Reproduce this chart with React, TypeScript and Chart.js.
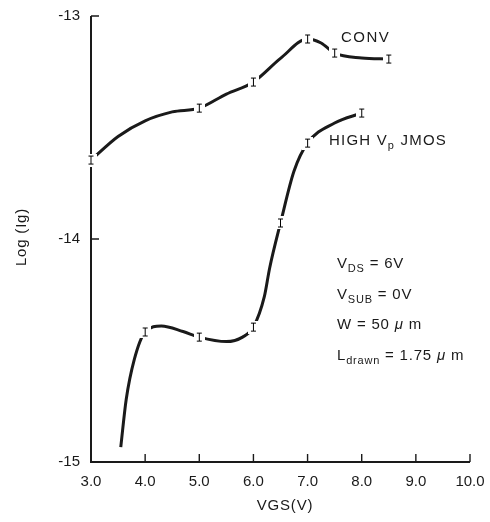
import React, { useEffect, useRef } from 'react';
import { Chart, registerables } from 'chart.js';
Chart.register(...registerables);

// ---- data ----
const xTicks = [3, 4, 5, 6, 7, 8, 9, 10];
const yTicks = [-15, -14, -13];

// CONV curve (smooth fit) and its measured points
const convCurveX = [3.0, 3.5, 4.0, 4.5, 5.0, 5.5, 6.0, 6.5, 7.0, 7.25, 7.5, 8.0, 8.5];
const convCurveY = [-13.646, -13.54, -13.47, -13.43, -13.413, -13.35, -13.296, -13.19, -13.103, -13.121, -13.166, -13.188, -13.193];
const convMarkX = [3.0, 5.0, 6.0, 7.0, 7.5, 8.5];
const convMarkY = [-13.646, -13.413, -13.296, -13.103, -13.166, -13.193];

// HIGH Vp JMOS curve and its measured points
const jmosCurveX = [3.55, 3.65, 3.8, 4.0, 4.3, 4.7, 5.0, 5.5, 5.8, 6.0, 6.2, 6.3, 6.5, 6.75, 7.0, 7.5, 8.0];
const jmosCurveY = [-14.933, -14.72, -14.54, -14.417, -14.39, -14.415, -14.44, -14.46, -14.44, -14.395, -14.26, -14.13, -13.928, -13.695, -13.57, -13.48, -13.435];
const jmosMarkX = [4.0, 5.0, 6.0, 6.5, 7.0, 8.0];
const jmosMarkY = [-14.417, -14.44, -14.395, -13.928, -13.57, -13.435];

const FONT = '"Liberation Sans", Arial, Helvetica, sans-serif';
const INK = '#1a1a1a';

const pts = (xs: number[], ys: number[]) => xs.map((x, i) => ({ x, y: ys[i] }));

function makeMarker(): HTMLCanvasElement {
  const c = document.createElement('canvas');
  c.width = 11;
  c.height = 13;
  const g = c.getContext('2d')!;
  g.fillStyle = '#fff';
  g.fillRect(0, 0, 11, 13);
  g.strokeStyle = '#000';
  g.lineWidth = 1;
  g.beginPath();
  g.moveTo(5.5, 2);
  g.lineTo(5.5, 11);
  g.moveTo(3, 2.5);
  g.lineTo(8, 2.5);
  g.moveTo(3, 10.5);
  g.lineTo(8, 10.5);
  g.stroke();
  return c;
}

type Run = { t: string; size?: number; dy?: number; italic?: boolean };

function drawRuns(ctx: CanvasRenderingContext2D, x: number, y: number, runs: Run[], spacing = '0.8px') {
  let cx = x;
  for (const r of runs) {
    const size = r.size ?? 15;
    ctx.font = `${r.italic ? 'italic ' : ''}${size}px ${FONT}`;
    (ctx as any).letterSpacing = spacing;
    ctx.textBaseline = 'middle';
    ctx.textAlign = 'left';
    ctx.fillText(r.t, cx, y + (r.dy ?? 0));
    cx += ctx.measureText(r.t).width;
  }
}

const decorPlugin = {
  id: 'decor',
  beforeDatasetsDraw(chart: any) {
    const { ctx, scales } = chart;
    const xs = scales.x, ys = scales.y;
    const x0 = xs.getPixelForValue(3);
    const x1 = xs.getPixelForValue(10);
    const yTop = ys.getPixelForValue(-13);
    const yBot = ys.getPixelForValue(-15);
    ctx.save();
    ctx.strokeStyle = INK;
    ctx.lineWidth = 2;
    ctx.beginPath();
    ctx.moveTo(x0, yTop);
    ctx.lineTo(x0, yBot);
    ctx.lineTo(x1, yBot);
    ctx.stroke();
    ctx.lineWidth = 1.4;
    ctx.beginPath();
    for (const v of yTicks) {
      const py = ys.getPixelForValue(v);
      ctx.moveTo(x0, py);
      ctx.lineTo(x0 + 8, py);
    }
    for (const v of xTicks) {
      if (v === 3) continue;
      const px = xs.getPixelForValue(v);
      ctx.moveTo(px, yBot);
      ctx.lineTo(px, yBot - 8);
    }
    ctx.stroke();
    ctx.restore();
  },
  afterDraw(chart: any) {
    const { ctx } = chart;
    ctx.save();
    ctx.fillStyle = INK;
    // axis titles
    ctx.font = `15px ${FONT}`;
    (ctx as any).letterSpacing = '0.8px';
    ctx.textAlign = 'center';
    ctx.textBaseline = 'middle';
    ctx.fillText('VGS(V)', 285, 506);
    ctx.save();
    ctx.translate(22, 237);
    ctx.rotate(-Math.PI / 2);
    ctx.fillText('Log (Ig)', 0, 0);
    ctx.restore();
    // curve labels
    drawRuns(ctx, 341, 38, [{ t: 'CONV' }], '1.5px');
    drawRuns(ctx, 329, 141, [{ t: 'HIGH V' }, { t: 'p', size: 11, dy: 5 }, { t: ' JMOS' }], '1.2px');
    // conditions
    drawRuns(ctx, 337, 264, [{ t: 'V' }, { t: 'DS', size: 11, dy: 5 }, { t: ' = 6V' }]);
    drawRuns(ctx, 337, 295, [{ t: 'V' }, { t: 'SUB', size: 11, dy: 5 }, { t: ' = 0V' }]);
    drawRuns(ctx, 337, 325, [{ t: 'W = 50 ' }, { t: 'μ', italic: true }, { t: ' m' }]);
    drawRuns(ctx, 337, 356, [{ t: 'L' }, { t: 'drawn', size: 11, dy: 5 }, { t: ' = 1.75 ' }, { t: 'μ', italic: true }, { t: ' m' }]);
    ctx.restore();
  },
};

const zeroPad = (s: any) => {
  s.paddingLeft = 0;
  s.paddingRight = 0;
  s.paddingTop = 0;
  s.paddingBottom = 0;
};

export default function App() {
  const ref = useRef<HTMLCanvasElement>(null);
  useEffect(() => {
    const marker = makeMarker();
    const lineDs = (data: any) => ({
      data,
      showLine: true,
      borderColor: INK,
      borderWidth: 3,
      pointRadius: 0,
      fill: false,
      cubicInterpolationMode: 'monotone',
      order: 2,
    });
    const markDs = (data: any) => ({
      data,
      showLine: false,
      pointStyle: marker,
      pointRadius: 6,
      clip: false,
      order: 1,
    });
    const chart = new Chart(ref.current!, {
      type: 'scatter',
      data: {
        datasets: [
          markDs(pts(convMarkX, convMarkY)),
          markDs(pts(jmosMarkX, jmosMarkY)),
          lineDs(pts(convCurveX, convCurveY)),
          lineDs(pts(jmosCurveX, jmosCurveY)),
        ] as any,
      },
      options: {
        responsive: false,
        animation: false,
        events: [],
        layout: { padding: { top: 16, right: 20, left: 0, bottom: 0 } },
        plugins: { legend: { display: false }, tooltip: { enabled: false } },
        scales: {
          x: {
            type: 'linear',
            min: 3,
            max: 10,
            grid: { display: false, drawTicks: false },
            border: { display: false },
            ticks: {
              stepSize: 1,
              autoSkip: false,
              maxRotation: 0,
              padding: 11,
              color: INK,
              font: { size: 15, family: FONT },
              callback: (v: any) => Number(v).toFixed(1),
            },
            afterFit: (s: any) => { s.height = 60; zeroPad(s); },
          },
          y: {
            type: 'linear',
            min: -15,
            max: -13,
            grid: { display: false, drawTicks: false },
            border: { display: false },
            ticks: {
              stepSize: 1,
              padding: 11,
              color: INK,
              font: { size: 15, family: FONT },
              callback: (v: any) => `${v}`,
            },
            afterFit: (s: any) => { s.width = 91; zeroPad(s); },
          },
        },
      },
      plugins: [decorPlugin],
    });
    return () => chart.destroy();
  }, []);
  return (
    <canvas
      ref={ref}
      width={490}
      height={522}
      style={{ position: 'fixed', left: 0, top: 0, width: 490, height: 522, background: '#fff' }}
    />
  );
}
